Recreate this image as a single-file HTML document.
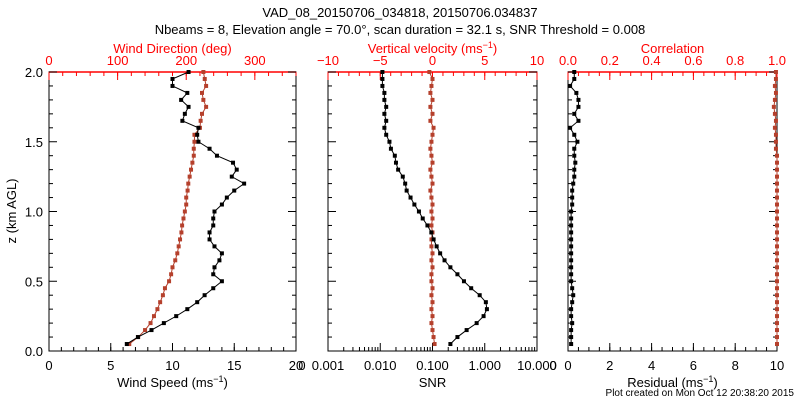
<!DOCTYPE html>
<html><head><meta charset="utf-8"><style>
body{margin:0;background:#fff;}
svg{display:block;font-family:"Liberation Sans",sans-serif;}
</style></head><body>
<svg id="chart" width="800" height="400"></svg>
<script>
const heights=[0.05,0.1,0.15,0.2,0.25,0.3,0.35,0.4,0.45,0.5,0.55,0.6,0.65,0.7,0.75,0.8,0.85,0.9,0.95,1.0,1.05,1.1,1.15,1.2,1.25,1.3,1.35,1.4,1.45,1.5,1.55,1.6,1.65,1.7,1.75,1.8,1.85,1.9,1.95,2.0];
const windSpeed=[6.3,7.2,8.3,9.3,10.3,11.2,12.0,12.6,13.3,14.0,13.3,13.4,13.8,14.0,13.4,13.0,13.0,13.3,13.3,13.4,14.0,14.4,15.0,15.8,14.8,15.2,14.9,13.6,13.0,12.1,12.0,12.1,10.8,11.0,11.3,10.7,11.2,10.0,10.0,11.3];
const windDir=[117,130,140,148,153,158,162,166,169,175,178,180,184,187,189,191,193,194,196,198,200,200,202,203,205,207,209,211,211,212,212,220,221,223,229,225,223,229,227,225];
const snr=[0.22,0.3,0.45,0.7,0.95,1.1,1.05,0.8,0.55,0.4,0.3,0.22,0.17,0.14,0.12,0.105,0.095,0.08,0.065,0.055,0.045,0.038,0.032,0.03,0.027,0.022,0.02,0.019,0.016,0.015,0.013,0.012,0.013,0.012,0.013,0.012,0.012,0.011,0.011,0.011];
const vertVel=[0.2,0.1,0.0,-0.1,0.0,-0.1,0.0,-0.1,0.0,-0.1,-0.1,0.0,-0.1,0.0,-0.1,-0.1,0.0,-0.1,0.0,-0.1,0.0,-0.1,-0.2,0.0,-0.1,-0.2,0.0,-0.1,-0.2,-0.1,0.0,0.1,-0.2,0.0,-0.2,0.0,-0.2,-0.1,0.0,-0.3];
const residual=[0.15,0.15,0.15,0.2,0.15,0.15,0.2,0.25,0.2,0.15,0.15,0.15,0.15,0.15,0.15,0.15,0.15,0.15,0.15,0.15,0.2,0.2,0.2,0.25,0.3,0.3,0.35,0.3,0.3,0.45,0.3,0.1,0.5,0.3,0.5,0.5,0.4,0.1,0.3,0.3];
const correlation=[1.0,1.0,1.0,1.0,1.0,1.0,1.0,1.0,1.0,1.0,1.0,1.0,1.0,1.0,1.0,1.0,1.0,1.0,1.0,1.0,1.0,1.0,1.0,1.0,1.0,1.0,1.0,1.0,0.995,0.995,0.995,0.99,0.995,0.99,0.985,0.99,0.995,0.99,0.995,0.995];

const svg=document.getElementById('chart');
const NS='http://www.w3.org/2000/svg';
const RED='#ff0000', SER='#b5402c';
const Y0=351,Y1=72;
const yS=z=>Y0+(z/2)*(Y1-Y0);
function el(tag,attrs,parent){const e=document.createElementNS(NS,tag);for(const k in attrs)e.setAttribute(k,attrs[k]);(parent||svg).appendChild(e);return e;}
function txt(x,y,s,color,anchor,size,parent){const t=el('text',{x:x,y:y,fill:color,'text-anchor':anchor||'middle','font-size':size||13},parent);t.innerHTML=s;return t;}

const t1=txt(400,17,'VAD_08_20150706_034818, 20150706.034837','#000');


const t2=txt(400,34,'Nbeams = 8, Elevation angle = 70.0°, scan duration = 32.1 s, SNR Threshold = 0.008','#000');



function panel(name,x0,x1,bottom,top,yaxis){
  const g=el('g',{});
  
  
  el('rect',{x:x0,y:Y1,width:x1-x0,height:Y0-Y1,fill:'none',stroke:'#000','stroke-width':1},g);
  el('line',{x1:x0,y1:Y1,x2:x1,y2:Y1,stroke:RED,'stroke-width':1.5},g);
  // bottom axis
  bottom.minor.forEach(v=>{const x=bottom.f(v);el('line',{x1:x,y1:Y0,x2:x,y2:Y0-4,stroke:'#000'},g);});
  bottom.major.forEach((v,i)=>{const x=bottom.f(v);el('line',{x1:x,y1:Y0,x2:x,y2:Y0-8,stroke:'#000'},g);
    const t=txt(x,370,bottom.labels[i],'#000','middle',13,g);
    
    });
  const bt=txt((x0+x1)/2,387,bottom.title,'#000','middle',13,g);
  
  
  // top axis
  top.minor.forEach(v=>{const x=top.f(v);el('line',{x1:x,y1:Y1,x2:x,y2:Y1+4,stroke:RED},g);});
  top.major.forEach((v,i)=>{const x=top.f(v);el('line',{x1:x,y1:Y1,x2:x,y2:Y1+8,stroke:RED},g);
    const t=txt(x,65,top.labels[i],RED,'middle',13,g);
    
    });
  const tt=txt((x0+x1)/2,53,top.title,RED,'middle',13,g);
  
  
  // y ticks
  for(let k=0;k<=20;k++){const z=k/10,y=yS(z),L=(k%5==0)?8:4;
    el('line',{x1:x0,y1:y,x2:x0+L,y2:y,stroke:'#000'},g);
    el('line',{x1:x1,y1:y,x2:x1-L,y2:y,stroke:'#000'},g);
    if(yaxis&&k%5==0){const t=txt(x0-6,y+5,z.toFixed(1),'#000','end',13,g);
      
      }}
  return g;
}
function series(g,name,xs,f,color){
  const pts=heights.map((z,i)=>[f(xs[i]),yS(z)]);
  const p=el('polyline',{points:pts.map(p=>p.join(',')).join(' '),fill:'none',stroke:color,'stroke-width':1},g);
  
  
  pts.forEach(q=>{const m=el('rect',{x:q[0]-2,y:q[1]-2,width:4,height:4,fill:color},g);
    
    });
}
function range(a,b,s){const r=[];for(let v=a;v<=b+1e-9;v+=s)r.push(+v.toFixed(6));return r;}

// Panel 1
const fS=v=>49+v*(296-49)/20, fD=v=>49+v*(296-49)/360;
const g1=panel('wind-panel',49,296,
 {f:fS,major:[0,5,10,15,20],labels:['0','5','10','15','20'],minor:range(0,20,1),title:'Wind Speed (ms<tspan dy="-5" font-size="9">−1</tspan><tspan dy="5">)</tspan>'},
 {f:fD,major:[0,100,200,300],labels:['0','100','200','300'],minor:range(0,360,20),title:'Wind Direction (deg)'},true);
series(g1,'wind-direction',windDir,fD,SER);
series(g1,'wind-speed',windSpeed,fS,'#000');
const yt=txt(0,0,'z (km AGL)','#000','middle',13);
yt.setAttribute('transform','translate(16,211) rotate(-90)');



// Panel 2
const fL=v=>328+(Math.log10(v)+3)*(537-328)/4, fV=v=>328+(v+10)*(537-328)/20;
const minL=[];for(let e=-3;e<1;e++)for(let m=2;m<=9;m++)minL.push(m*Math.pow(10,e));
const g2=panel('snr-panel',328,537,
 {f:fL,major:[0.001,0.01,0.1,1,10],labels:['0.001','0.010','0.100','1.000','10.000'],minor:minL,title:'SNR'},
 {f:fV,major:[-10,-5,0,5,10],labels:['−10','−5','0','5','10'],minor:range(-10,10,1),title:'Vertical velocity (ms<tspan dy="-5" font-size="9">−1</tspan><tspan dy="5">)</tspan>'},false);
series(g2,'vertical-velocity',vertVel,fV,SER);
series(g2,'snr',snr,fL,'#000');
txt(302,370,'0','#000','middle',13);

// Panel 3
const fR=v=>568+v*(777-568)/10, fC=v=>568+v*(777-568);
const g3=panel('residual-panel',568,777,
 {f:fR,major:[0,2,4,6,8,10],labels:['0','2','4','6','8','10'],minor:range(0,10,0.5),title:'Residual (ms<tspan dy="-5" font-size="9">−1</tspan><tspan dy="5">)</tspan>'},
 {f:fC,major:[0,0.2,0.4,0.6,0.8,1.0],labels:['0.0','0.2','0.4','0.6','0.8','1.0'],minor:range(0,1,0.05),title:'Correlation'},false);
series(g3,'correlation',correlation,fC,SER);
series(g3,'residual',residual,fR,'#000');
txt(553,370,'0','#000','middle',13);
const ft=txt(794,396,'Plot created on Mon Oct 12 20:38:20 2015','#000','end',10);


</script>
</body></html>
